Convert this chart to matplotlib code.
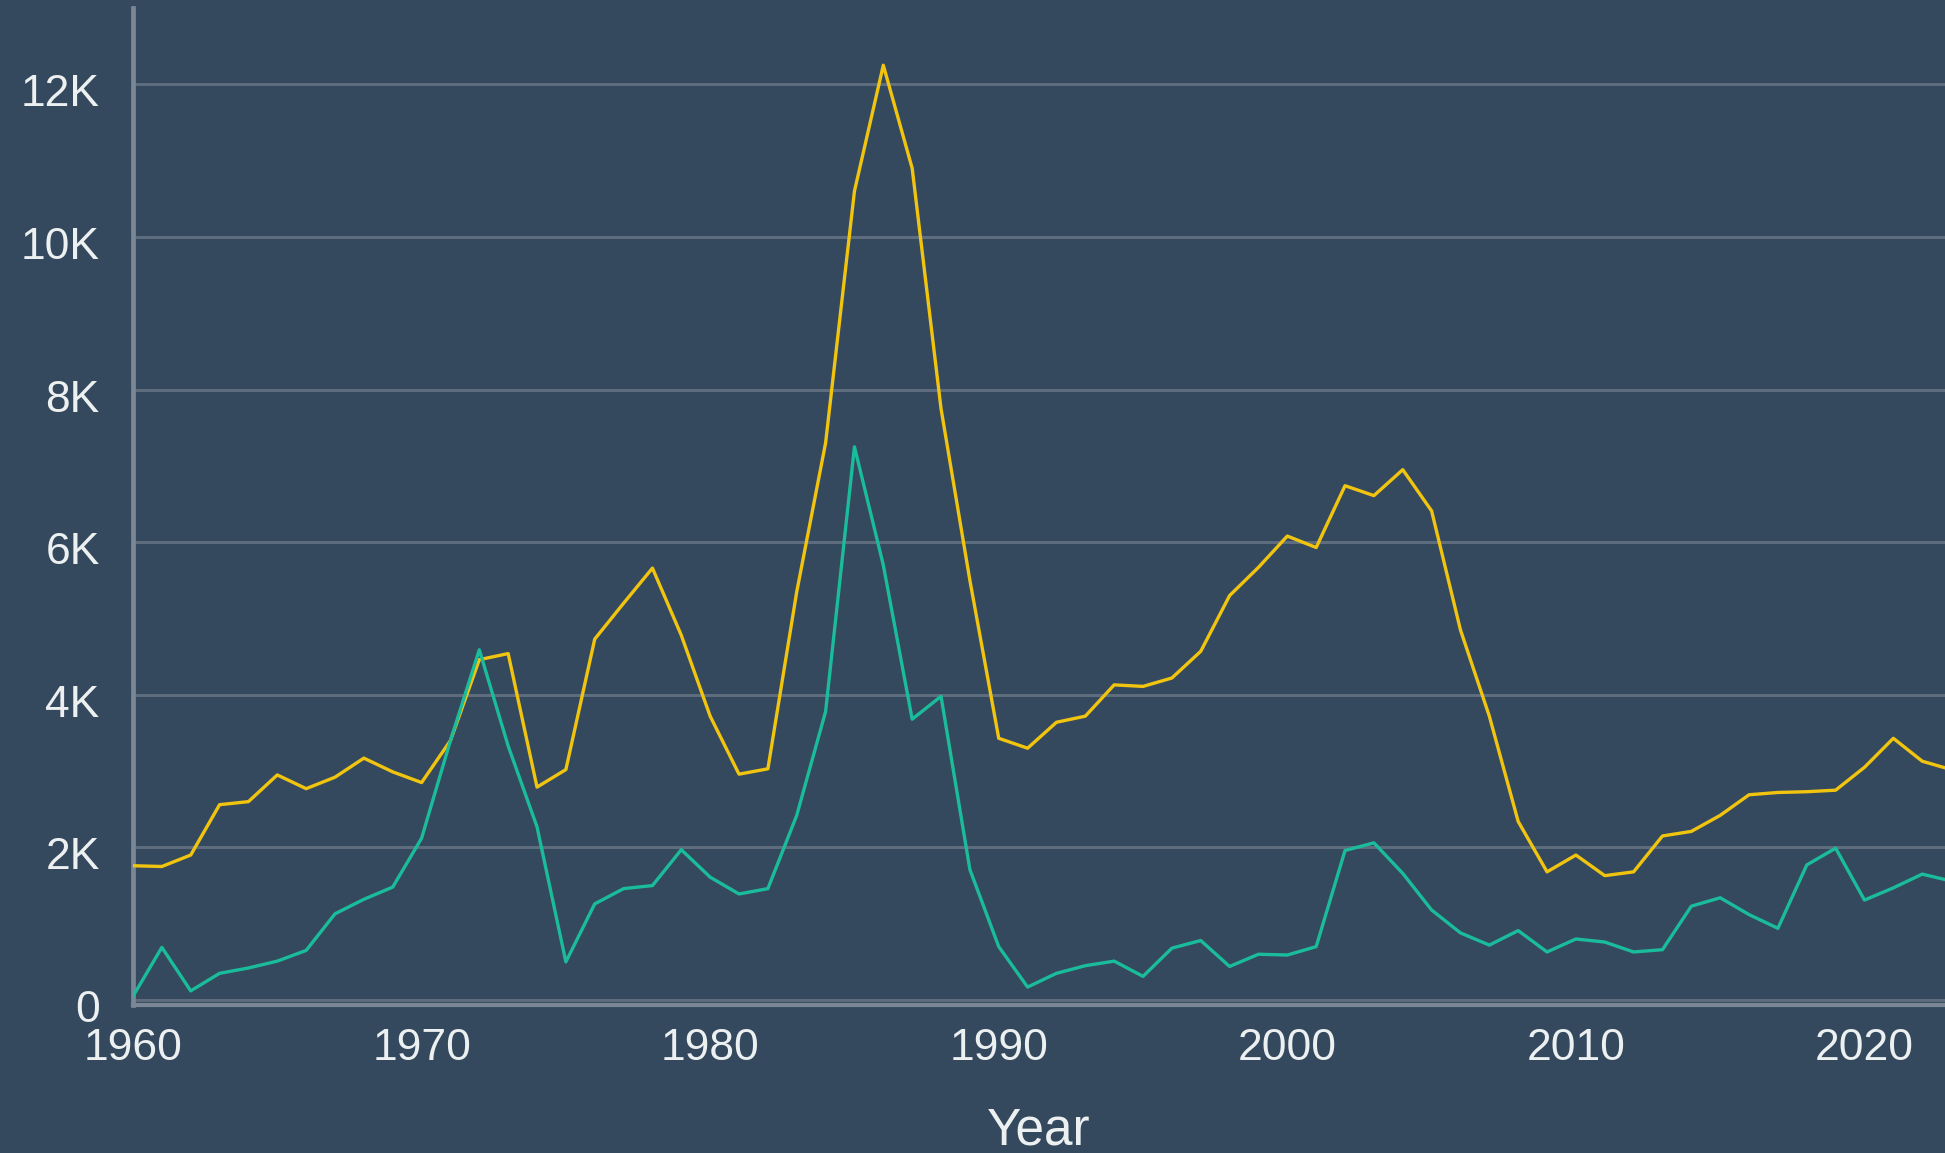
import matplotlib
matplotlib.use("Agg")
import matplotlib.pyplot as plt
from matplotlib.ticker import FuncFormatter
from matplotlib.transforms import ScaledTranslation

years = list(range(1960, 2024))

series_yellow = [
    1760, 1750, 1900, 2560, 2600, 2950, 2770, 2920, 3170, 2990,
    2850, 3400, 4460, 4540, 2790, 3020, 4730, 5200, 5660, 4780,
    3720, 2960, 3030, 5350, 7300, 10600, 12250, 10900, 7750, 5500,
    3430, 3300, 3640, 3720, 4130, 4110, 4220, 4570, 5300, 5670,
    6080, 5930, 6740, 6610, 6950, 6410, 4850, 3720, 2340, 1680,
    1900, 1630, 1680, 2150, 2210, 2420, 2690, 2720, 2730, 2750,
    3050, 3430, 3130, 3020,
]

series_teal = [
    50, 690, 120, 350, 420, 510, 650, 1130, 1320, 1480,
    2120, 3400, 4590, 3330, 2270, 500, 1260, 1460, 1500, 1970,
    1610, 1390, 1460, 2420, 3780, 7250, 5700, 3680, 3980, 1710,
    700, 170, 350, 450, 510, 310, 680, 780, 440, 600,
    590, 700, 1960, 2060, 1660, 1180, 880, 720, 910, 630,
    800, 760, 630, 660, 1230, 1340, 1120, 940, 1770, 1990,
    1310, 1470, 1650, 1560,
]

x_ticks = [1960, 1970, 1980, 1990, 2000, 2010, 2020]
y_ticks = [0, 2000, 4000, 6000, 8000, 10000, 12000]
x_label = "Year"

BG = "#34495e"
TEXT = "#ecf0f1"
GRID = "#5d6d7e"
SPINE = "#7b8794"
YELLOW = "#f1c40f"
TEAL = "#1abc9c"

plt.rcParams["font.family"] = ["Liberation Sans", "DejaVu Sans"]

fig = plt.figure(figsize=(19.45, 11.53), dpi=100, facecolor=BG)
ax = fig.add_axes([133 / 1945, (1153 - 1005) / 1153, 1 - 133 / 1945, (1005 - 8) / 1153])
ax.set_facecolor(BG)

ax.plot(years, series_yellow, color=YELLOW, lw=2.4, zorder=3)
ax.plot(years, series_teal, color=TEAL, lw=2.4, zorder=3)

ax.set_xlim(1960, 2022.79)
ax.set_ylim(-65, 13000)

ax.set_xticks(x_ticks)
ax.set_yticks(y_ticks)
ax.yaxis.set_major_formatter(FuncFormatter(lambda v, p: "0" if v == 0 else f"{int(v/1000)}K"))

ax.grid(axis="y", color=GRID, lw=2.2, zorder=1)
ax.grid(axis="x", visible=False)

for s in ["top", "right"]:
    ax.spines[s].set_visible(False)
ax.spines["left"].set_color(SPINE)
ax.spines["left"].set_linewidth(3.4)
ax.spines["bottom"].set_color(SPINE)
ax.spines["bottom"].set_linewidth(3.0)
ax.spines["left"].set_zorder(2)
ax.spines["bottom"].set_zorder(2)

ax.tick_params(axis="x", length=0, pad=16.5, labelsize=32, colors=TEXT)
ax.tick_params(axis="y", length=0, pad=24, labelsize=32, colors=TEXT)

for lab in ax.get_yticklabels():
    lab.set_transform(lab.get_transform() + ScaledTranslation(0, -6 / 100, fig.dpi_scale_trans))

ax.set_xlabel(x_label, fontsize=37, color=TEXT, labelpad=27)

fig.savefig("out.png", dpi=100, facecolor=BG)
